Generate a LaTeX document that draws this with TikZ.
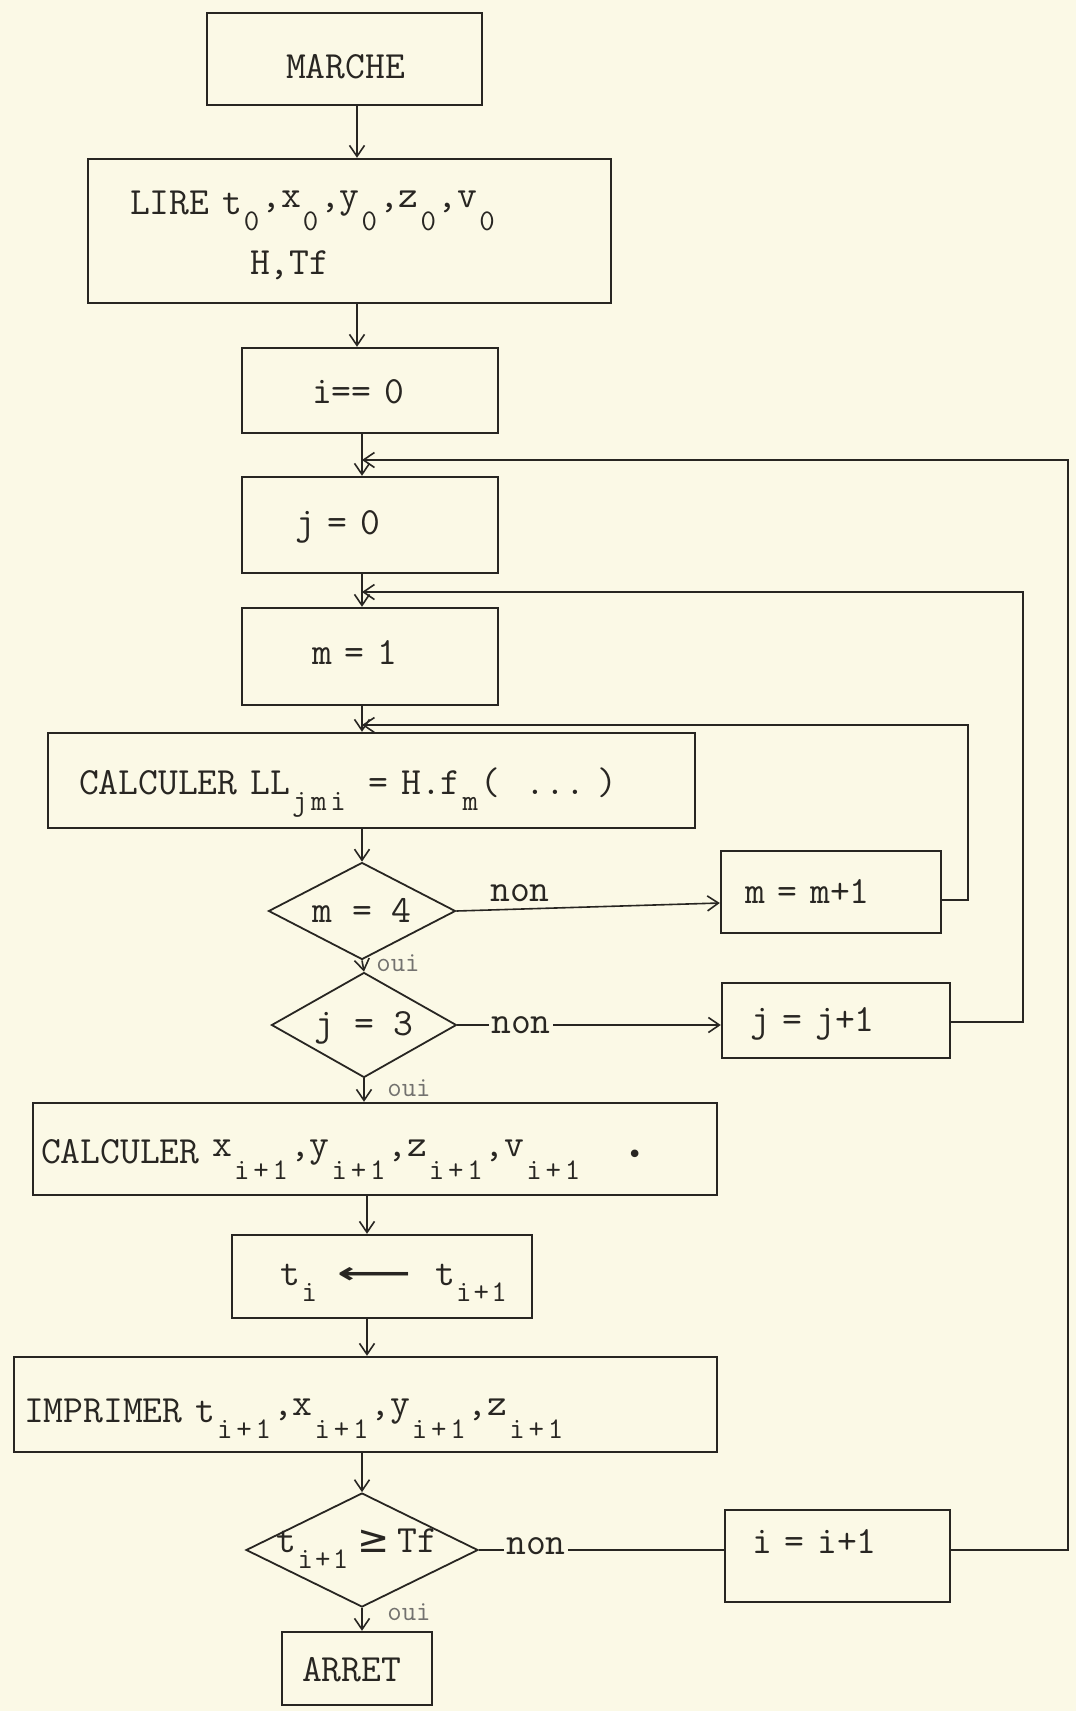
\documentclass[tikz,border=0pt]{standalone}
\usepackage{fontspec}
\usepackage{graphicx}
\usetikzlibrary{shapes.geometric,arrows.meta,calc}
\newfontfamily\dejavu{DejaVu Sans}
\newcommand\mainfont{\ttfamily\fontsize{38.5}{56}\selectfont}
\newcommand\ouifont{\ttfamily\fontsize{28}{28}\selectfont}
\makeatletter
\newcommand\dn[2][0.5em]{\def\dn@w{#1}\raisebox{-0.42em}{\dn@#2\relax}}
\def\dn@#1{\ifx\relax#1\else\makebox[\dn@w]{\fontsize{30}{30}\selectfont #1}\expandafter\dn@\fi}
\makeatother
\newcommand\up[1]{\raisebox{0.18em}{#1}}
\definecolor{paper}{RGB}{251,249,230}
\definecolor{ink}{RGB}{40,38,34}
\begin{document}
\begin{tikzpicture}[x=1pt,y=-1pt,
  box/.style={draw=ink, line width=2.4pt, rectangle, inner ysep=0pt, align=left, font=\mainfont, text=ink},
  dia/.style={draw=ink, line width=1.8pt, diamond, aspect=2, inner sep=0pt, font=\mainfont, text=ink},
  arr/.style={draw=ink, line width=1.6pt, -{Straight Barb[length=11pt,width=15pt,line width=1.6pt]}},
  plain/.style={draw=ink, line width=1.6pt},
  lab/.style={font=\mainfont, text=ink, inner sep=2pt},
  ouil/.style={font=\ouifont, text=ink!65, inner sep=0pt}]
\fill[paper] (0,0) rectangle (1076,1711);
\useasboundingbox (0,0) rectangle (1076,1711);

% boxes
\node[box, minimum width=275pt, minimum height=92pt, inner xsep=79pt, text width=117pt, text height=40pt, text depth=2pt] (marche) at (344.5,59) {MARCHE};
\node[box, font=\ttfamily\fontsize{38.5}{60}\selectfont, minimum width=523pt, minimum height=144pt, inner xsep=42pt, text width=439pt, text height=24pt, text depth=58pt] (lire) at (349.5,231)
  {LIRE t\dn{0}\up{,x}\dn{0}\up{,y}\dn{0}\up{,z}\dn{0}\up{,v}\dn{0}\\\hspace*{120pt}H,Tf};
\node[box, minimum width=256pt, minimum height=85pt, inner xsep=70pt, text width=116pt, text height=27pt, text depth=2pt] (i0) at (370,390.5) {i== 0};
\node[box, minimum width=256pt, minimum height=96pt, inner xsep=53pt, text width=150pt, text height=24pt, text depth=6pt] (j0) at (370,525) {j = 0};
\node[box, minimum width=256pt, minimum height=97pt, inner xsep=70pt, text width=116pt, text height=24pt, text depth=9pt] (m1) at (370,656.5) {m = 1};
\node[box, minimum width=647pt, minimum height=95pt, inner xsep=31pt, text width=585pt, text height=29pt, text depth=2pt] (calcLL) at (371.5,780.5)
  {\mbox{CALCULER LL\dn{jmi}\hspace{8pt} = H.f\dn{m}(\ \ ...\ )}};
\node[box, minimum width=220pt, minimum height=82pt, inner xsep=24pt, text width=172pt, text height=24pt, text depth=2pt] (mp1) at (831,892) {m = m+1};
\node[box, minimum width=228pt, minimum height=75pt, inner xsep=28pt, text width=172pt, text height=24pt, text depth=3pt] (jp1) at (836,1020.5) {j = j+1};
\node[box, minimum width=684pt, minimum height=92pt, inner xsep=8pt, text width=668pt, text height=30pt, text depth=2pt] (calcX) at (375,1149)
  {\mbox{CALCULER \up{x}\dn{i+1}\up{,y}\dn{i+1}\up{,z}\dn{i+1}\up{,v}\dn{i+1}\hspace{45pt}{\dejavu\fontsize{26}{26}\selectfont •}}};
\node[box, minimum width=300pt, minimum height=83pt, inner xsep=48pt, text width=204pt, text height=24pt, text depth=7pt] (ti) at (382,1276.5)
  {\mbox{t\dn{i}\hspace{18pt}\raisebox{2pt}{\resizebox*{74pt}{16pt}{\dejavu\bfseries ⟵}}\hspace{24pt}t\dn[0.46em]{i+1}}};
\node[box, minimum width=703pt, minimum height=95pt, inner xsep=10pt, text width=683pt, text height=37pt, text depth=2pt] (impr) at (365.5,1404.5)
  {\mbox{IMPRIMER t\dn{i+1}\up{,x}\dn{i+1}\up{,y}\dn{i+1}\up{,z}\dn{i+1}}};
\node[box, minimum width=225pt, minimum height=92pt, inner xsep=27pt, text width=171pt, text height=24pt, text depth=30pt] (ip1) at (837.5,1556) {i = i+1};
\node[box, minimum width=150pt, minimum height=73pt, inner xsep=20pt, text width=110pt, text height=27pt, text depth=2pt] (arret) at (357,1668.5) {ARRET};

% decisions
\node[dia, minimum width=187pt, minimum height=97pt, text height=24pt, text depth=2pt] (m4) at (362,911) {m = 4};
\node[dia, minimum width=185pt, minimum height=105pt, text height=24pt, text depth=4pt] (j3) at (364,1025) {j = 3};
\node[dia, minimum width=232pt, minimum height=114pt, inner sep=-12pt, text height=24pt, text depth=20pt] (Tf) at (362,1550)
  {\hspace*{-10pt}t\dn[0.46em]{i+1}\hspace{8pt}{\dejavu ≥}\hspace{8pt}Tf};

% helper coordinates
\coordinate (xa) at (357,0);
\coordinate (xb) at (362,0);
\coordinate (xc) at (367,0);
\coordinate (ji) at (362,460);
\coordinate (jj) at (362,592);
\coordinate (jm) at (362,725);
\coordinate (r1) at (968,0);
\coordinate (r2) at (1023,0);
\coordinate (r3) at (1068,0);

% main flow
\draw[arr] (marche.south -| xa) -- (lire.north -| xa);
\draw[arr] (lire.south -| xa) -- (i0.north -| xa);
\draw[arr] (i0.south -| xb) -- (j0.north -| xb);
\draw[arr] (j0.south -| xb) -- (m1.north -| xb);
\draw[arr] (m1.south -| xb) -- (calcLL.north -| xb);
\draw[arr] (calcLL.south -| m4.north) -- (m4.north);
\draw[arr] (m4.south) -- (j3.north);
\draw[arr] (j3.south) -- (j3.south |- calcX.north);
\draw[arr] (calcX.south -| xc) -- (ti.north -| xc);
\draw[arr] (ti.south -| xc) -- (impr.north -| xc);
\draw[arr] (impr.south -| Tf.north) -- (Tf.north);
\draw[arr] (Tf.south) -- (Tf.south |- arret.north);

% branches
\draw[arr] (m4.east) -- ([yshift=-11pt]mp1.west);
\draw[arr] (j3.east) -- (j3.east -| jp1.west);
\draw[plain] (Tf.east) -- (Tf.east -| ip1.west);

% loops
\draw[arr] ([yshift=-8pt]mp1.east) -| (r1 |- jm) -- (jm);
\draw[arr] ([yshift=-1.5pt]jp1.east) -| (r2 |- jj) -- (jj);
\draw[arr] ([yshift=6pt]ip1.east) -| (r3 |- ji) -- (ji);

% labels
\node[lab] (non1) at (520,893) {non};
\node[lab, fill=paper] (non2) at (521,1025) {non};
\node[lab, fill=paper] (non3) at (536,1546) {non};
\node[ouil] (oui1) at (398,963) {oui};
\node[ouil] (oui2) at (409,1088) {oui};
\node[ouil] (oui3) at (409,1612) {oui};
\end{tikzpicture}
\end{document}
